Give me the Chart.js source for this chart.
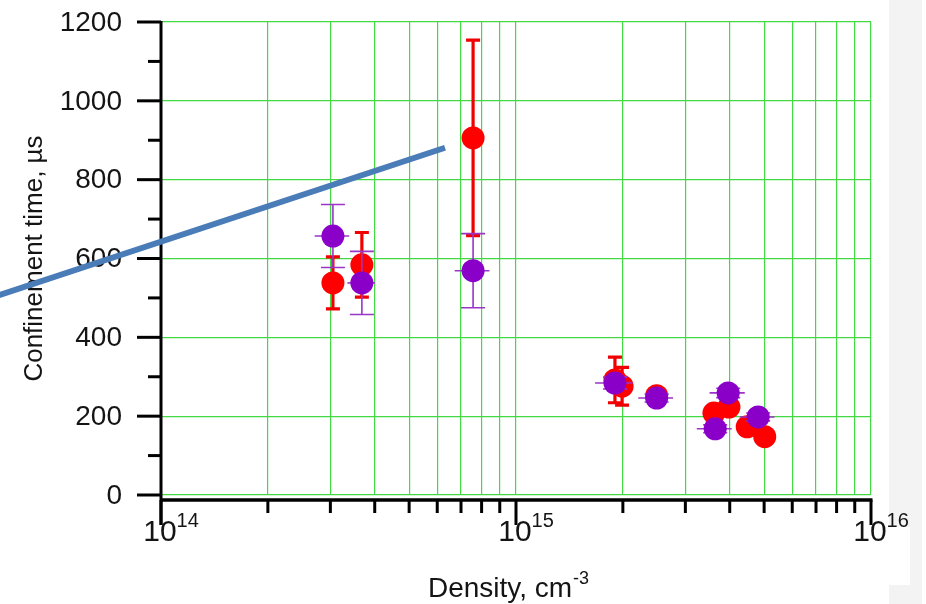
<!DOCTYPE html>
<html>
<head>
<meta charset="utf-8">
<title>Confinement time vs density</title>
<script src="https://cdn.jsdelivr.net/npm/chart.js@4/dist/chart.umd.min.js"></script>
<style>
  html, body { margin: 0; padding: 0; background: #ffffff; }
  #wrap { position: relative; width: 926px; height: 604px; }
  canvas { display: block; }
</style>
</head>
<body>
<div id="wrap"><canvas id="chart" width="926" height="604"></canvas></div>
<script>
// ---- data ----
const redDensity   = [3.05e14, 3.68e14, 7.57e14, 1.90e15, 1.99e15, 2.49e15, 3.61e15, 3.98e15, 4.48e15, 5.02e15];
const redTime      = [538, 584, 906, 292, 276, 252, 208, 223, 173, 148];
const redTimeErr   = [66, 82, 248, 58, 48, 10, 10, 10, 10, 10];

const purpleDensity    = [3.05e14, 3.68e14, 7.57e14, 1.90e15, 2.49e15, 3.96e15, 3.64e15, 4.81e15];
const purpleTime       = [657, 538, 569, 284, 246, 259, 168, 198];
const purpleTimeErr    = [80, 80, 94, 15, 10, 12, 10, 10];
const purpleDensityErr = [0.34e14, 0.33e14, 0.85e14, 0.23e15, 0.28e15, 0.45e15, 0.41e15, 0.54e15];

const trendDensity = [3.0e13, 6.31e14];
const trendTime    = [487, 881];

const timeTicks      = [0, 200, 400, 600, 800, 1000, 1200];
const timeMinorTicks = [100, 300, 500, 700, 900, 1100];
const densityDecades = [14, 15, 16];

const xTitle = 'Density, cm';
const xTitleSup = '-3';
const yTitle = 'Confinement time, \u00b5s';

// ---- styling ----
const GRID = '#42d942';
const FONT = '"Liberation Sans", Arial, sans-serif';
const TEXT = '#141414';

// log grid positions: 1..9 x 10^n for each decade
const densityGrid = [];
densityDecades.forEach((d, i) => {
  if (i === densityDecades.length - 1) { densityGrid.push(Math.pow(10, d)); return; }
  for (let m = 1; m <= 9; m++) densityGrid.push(m * Math.pow(10, d));
});

const pts = (xs, ys) => xs.map((v, i) => ({ x: v, y: ys[i] }));

// background: pale strip on the right edge
const backdrop = {
  id: 'backdrop',
  beforeDraw(chart) {
    const { ctx } = chart;
    ctx.save();
    ctx.fillStyle = '#ffffff';
    ctx.fillRect(0, 0, chart.width, chart.height);
    ctx.fillStyle = '#f3f3f3';
    ctx.fillRect(889, 0, 33, chart.height);
    ctx.fillStyle = '#ffffff';
    ctx.fillRect(860, 527, 50, 58);
    ctx.restore();
  }
};

// black axes with outward ticks, tick labels and titles
const axes = {
  id: 'axes',
  beforeDatasetsDraw(chart) {
    const { ctx, chartArea: a, scales: { x, y } } = chart;
    ctx.save();
    ctx.strokeStyle = '#000';
    ctx.lineCap = 'butt';
    ctx.lineWidth = 3;

    const axisY = a.bottom + 5;
    // vertical axis (continues down into the first decade tick)
    ctx.beginPath();
    ctx.moveTo(a.left, a.top - 1);
    ctx.lineTo(a.left, axisY + 25);
    ctx.stroke();
    // horizontal axis
    ctx.lineWidth = 3.5;
    ctx.beginPath();
    ctx.moveTo(a.left, axisY);
    ctx.lineTo(a.right + 1.5, axisY);
    ctx.stroke();
    ctx.lineWidth = 3;

    // y ticks
    timeTicks.forEach(v => {
      const py = y.getPixelForValue(v);
      ctx.beginPath(); ctx.moveTo(a.left - 24, py); ctx.lineTo(a.left, py); ctx.stroke();
    });
    timeMinorTicks.forEach(v => {
      const py = y.getPixelForValue(v);
      ctx.beginPath(); ctx.moveTo(a.left - 13, py); ctx.lineTo(a.left, py); ctx.stroke();
    });
    // x ticks
    densityGrid.forEach(v => {
      const px = x.getPixelForValue(v);
      const major = Math.abs(Math.log10(v) - Math.round(Math.log10(v))) < 1e-9;
      ctx.beginPath();
      ctx.moveTo(px, axisY);
      ctx.lineTo(px, axisY + (major ? 25 : 13));
      ctx.stroke();
    });

    // y tick labels
    ctx.fillStyle = TEXT;
    ctx.font = '28px ' + FONT;
    ctx.textAlign = 'right';
    ctx.textBaseline = 'middle';
    timeTicks.forEach(v => {
      ctx.fillText(String(v), 122, y.getPixelForValue(v) + 1);
    });

    // x tick labels: 10 with superscript exponent
    ctx.textBaseline = 'alphabetic';
    ctx.textAlign = 'left';
    densityDecades.forEach(d => {
      const px = x.getPixelForValue(Math.pow(10, d));
      ctx.font = '30px ' + FONT;
      const wBase = ctx.measureText('10').width;
      ctx.font = '20px ' + FONT;
      const wExp = ctx.measureText(String(d)).width;
      const left = px + 10 - (wBase + wExp) / 2;
      ctx.font = '30px ' + FONT;
      ctx.fillText('10', left, 541);
      ctx.font = '20px ' + FONT;
      ctx.fillText(String(d), left + wBase, 527);
    });

    // x title with superscript unit power
    ctx.font = '28px ' + FONT;
    const wT = ctx.measureText(xTitle).width;
    ctx.font = '18px ' + FONT;
    const wS = ctx.measureText(xTitleSup).width;
    const cx = 508;
    const tl = cx - (wT + wS) / 2;
    ctx.font = '28px ' + FONT;
    ctx.fillText(xTitle, tl, 597);
    ctx.font = '18px ' + FONT;
    ctx.fillText(xTitleSup, tl + wT + 1, 584);

    // y title
    ctx.save();
    ctx.translate(42, (a.top + a.bottom) / 2);
    ctx.rotate(-Math.PI / 2);
    ctx.font = '26px ' + FONT;
    ctx.textAlign = 'center';
    ctx.textBaseline = 'alphabetic';
    ctx.fillText(yTitle, 0, 0);
    ctx.restore();

    ctx.restore();
  }
};

// error bars, drawn just beneath their own dataset's markers
const errorBars = {
  id: 'errorBars',
  beforeDatasetDraw(chart, args) {
    const ds = chart.data.datasets[args.index];
    if (!ds.errY && !ds.errX) return;
    const { ctx, scales: { x, y } } = chart;
    const st = ds.errStyle;
    ctx.save();
    ctx.strokeStyle = st.color;
    ctx.lineWidth = st.width;
    ctx.lineCap = 'butt';
    ds.data.forEach((p, i) => {
      const px = x.getPixelForValue(p.x);
      const py = y.getPixelForValue(p.y);
      if (ds.errY) {
        const e = ds.errY[i];
        const top = y.getPixelForValue(p.y + e);
        const bot = y.getPixelForValue(p.y - e);
        ctx.beginPath();
        ctx.moveTo(px, top); ctx.lineTo(px, bot);
        ctx.moveTo(px - st.cap, top); ctx.lineTo(px + st.cap, top);
        ctx.moveTo(px - st.cap, bot); ctx.lineTo(px + st.cap, bot);
        ctx.stroke();
      }
      if (ds.errX) {
        const e = ds.errX[i];
        const l = x.getPixelForValue(p.x - e);
        const r = x.getPixelForValue(p.x + e);
        ctx.beginPath();
        ctx.moveTo(l, py); ctx.lineTo(r, py);
        ctx.stroke();
      }
    });
    ctx.restore();
  }
};

new Chart(document.getElementById('chart'), {
  type: 'scatter',
  data: {
    datasets: [
      {
        label: 'trend',
        type: 'line',
        data: pts(trendDensity, trendTime),
        borderColor: '#4a7cb8',
        borderWidth: 6,
        pointRadius: 0,
        borderCapStyle: 'butt',
        clip: false,
        order: 0
      },
      {
        label: 'purple',
        data: pts(purpleDensity, purpleTime),
        backgroundColor: '#8a00c8',
        borderWidth: 0,
        pointRadius: 11.5,
        errY: purpleTimeErr,
        errX: purpleDensityErr,
        errStyle: { color: '#9a35c8', width: 1.6, cap: 12 },
        order: 1
      },
      {
        label: 'red',
        data: pts(redDensity, redTime),
        backgroundColor: '#ff0000',
        borderWidth: 0,
        pointRadius: 11.5,
        errY: redTimeErr,
        errStyle: { color: '#f00000', width: 3.2, cap: 7 },
        order: 2
      }
    ]
  },
  options: {
    responsive: false,
    animation: false,
    devicePixelRatio: 1,
    events: [],
    layout: { padding: { left: 161, right: 55, top: 22, bottom: 109 } },
    plugins: { legend: { display: false }, tooltip: { enabled: false } },
    scales: {
      x: {
        type: 'logarithmic',
        min: 1e14,
        max: 1e16,
        afterBuildTicks: s => { s.ticks = densityGrid.map(v => ({ value: v })); },
        afterFit: s => { s.height = 0; },
        ticks: { display: false },
        border: { display: false },
        grid: { color: GRID, lineWidth: 1.2, drawTicks: false }
      },
      y: {
        min: 0,
        max: 1200,
        afterBuildTicks: s => { s.ticks = timeTicks.map(v => ({ value: v })); },
        afterFit: s => { s.width = 0; },
        ticks: { display: false },
        border: { display: false },
        grid: { color: GRID, lineWidth: 1.2, drawTicks: false }
      }
    }
  },
  plugins: [backdrop, axes, errorBars]
});
</script>
</body>
</html>
